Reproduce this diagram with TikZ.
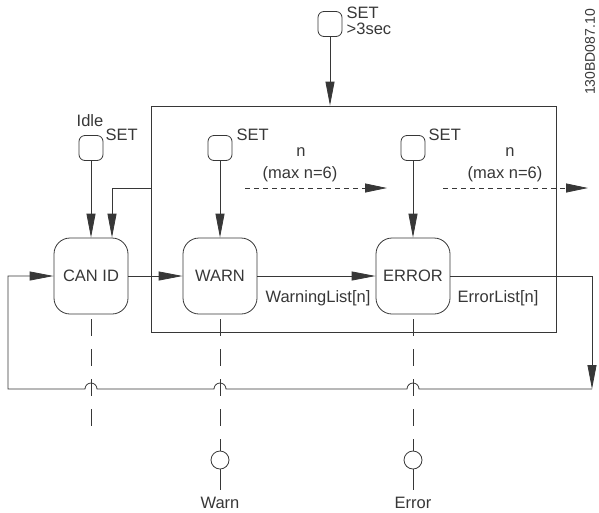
\documentclass[tikz,border=0pt]{standalone}
\usepackage{fontspec}
\setmainfont{Liberation Sans}
\usetikzlibrary{arrows.meta}
\definecolor{linegray}{RGB}{55,55,55}

\begin{document}
\begin{tikzpicture}[x = 1pt, y = -1pt, color = linegray, line width = 0.8pt,
	font = \fontsize{16.5}{16}\selectfont,
	state/.style = {draw, rounded corners = 16pt, minimum width = 74pt, minimum height = 76pt},
	button/.style = {draw, rounded corners = 6pt, minimum width = 24pt, minimum height = 25pt},
	bulb/.style = {draw, circle, minimum size = 18pt, inner sep = 0pt},
	>={Triangle[length = 24pt, width = 9pt]},
	longdash/.style = {dash pattern = on 17pt off 13pt, shorten <= 5pt},
	shortdash/.style = {dash pattern = on 5pt off 4pt, -{Triangle[length = 22pt, width = 9pt]}}]
			\useasboundingbox (0,0) rectangle (599,512);
			\node (frame) at (353.5,219) [draw, minimum width = 405pt, minimum height = 226pt] {};
			\node (canid) at (91,276) [state] {CAN ID};
			\node (warn) at (220,276) [state] {WARN};
			\node (err) at (413,276) [state] {ERROR};
			\node (topset) at (330,24) [button] {};
			\node (idleset) at (91,148) [button] {};
			\node (warnset) at (220,148) [button] {};
			\node (errset) at (413,148) [button] {};
			\node (warnbulb) at (220,460) [bulb] {};
			\node (errbulb) at (413,460) [bulb] {};
			\node (toplbl) at (343,21) [anchor = west, align = left] {SET\\>3sec};
			\node (idlelbl) at (90,121) {Idle};
			\node (idlesetlbl) at (102,135) [anchor = west] {SET};
			\node (warnsetlbl) at (233,135) [anchor = west] {SET};
			\node (errsetlbl) at (425,135) [anchor = west] {SET};
			\node (n1) at (301,152) {n};
			\node (max1) at (300,174) {(max n=6)};
			\node (n2) at (510,152) {n};
			\node (max2) at (505,174) {(max n=6)};
			\node (wlist) at (318,298) {WarningList[n]};
			\node (elist) at (498,298) {ErrorList[n]};
			\node (warnlbl) at (220,503) {Warn};
			\node (errlbl) at (413,503) {Error};
			\node (docid) at (590,52) [rotate = 90, font = \fontsize{14}{14}\selectfont] {130BD087.10};
			\coordinate (fb) at (151,188);
			\coordinate (d1s) at (245,188);
			\coordinate (d1e) at (387,188);
			\coordinate (d2s) at (443,188);
			\coordinate (d2e) at (588,188);
			\coordinate (rc) at (592,389);
			\coordinate (lc) at (8,389);
			\coordinate (canend) at (91,433);
			\draw[->] (topset) -- (topset |- frame.north);
			\draw[->] (idleset) -- (canid);
			\draw[->] (warnset) -- (warn);
			\draw[->] (errset) -- (err);
			\draw[->] (fb) -| ([xshift = 21pt]canid.north);
			\draw[->] (canid) -- (warn);
			\draw[->] (warn) -- (err);
			\draw[->] (err.east) -| (rc);
			\draw[->] (rc) -- (419,389) arc[start angle = 0, end angle = 180, radius = 6pt]
				-- (226,389) arc[start angle = 0, end angle = 180, radius = 6pt]
				-- (97,389) arc[start angle = 0, end angle = 180, radius = 6pt]
				-- (lc) |- (canid);
			\draw[shortdash] (d1s) -- (d1e);
			\draw[shortdash] (d2s) -- (d2e);
			\draw[longdash] (canid) -- (canend);
			\draw[longdash] (warn) -- (warnbulb);
			\draw[longdash] (err) -- (errbulb);
			\draw[shorten >= 4pt] (warnbulb) -- (warnlbl);
			\draw[shorten >= 4pt] (errbulb) -- (errlbl);
			\end{tikzpicture}
\end{document}
